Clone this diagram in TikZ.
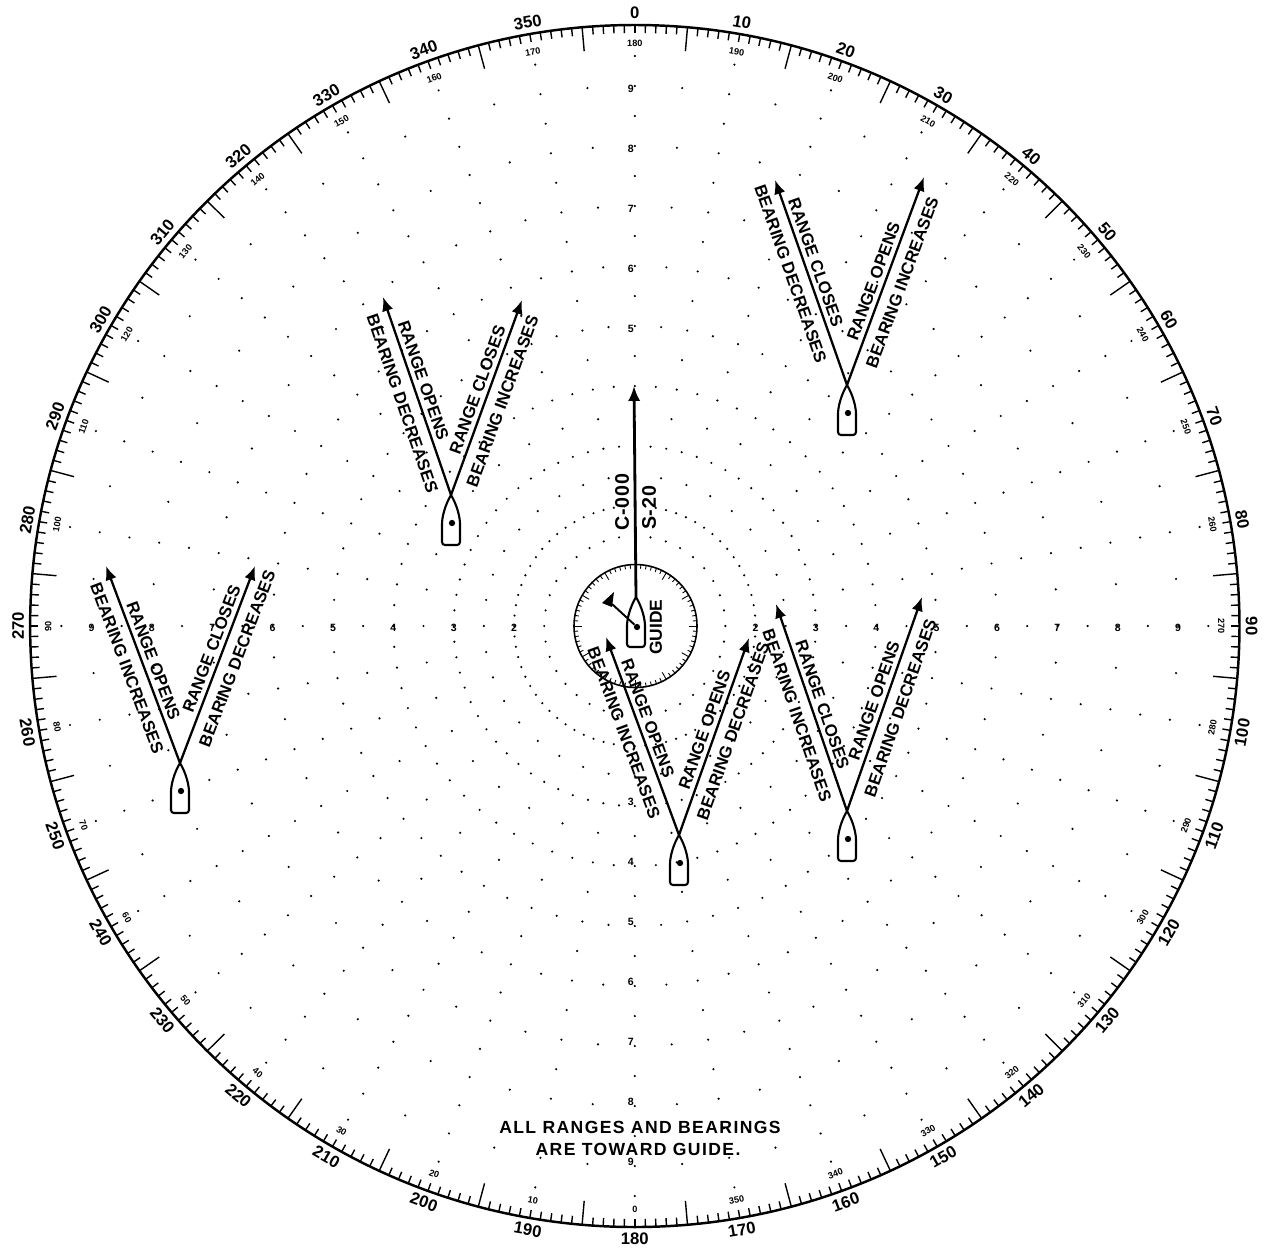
\documentclass[tikz,border=0pt]{standalone}
\usepackage{fontspec}
\setmainfont{Liberation Sans}
\newfontfamily\notefont[LetterSpace=8]{Liberation Sans}
\usetikzlibrary{arrows.meta}

\tikzset{
  chartdot/.style={fill=black},
  rim/.style={font=\bfseries\fontsize{9.5pt}{10pt}\selectfont,inner sep=0pt},
  reciprocal/.style={font=\bfseries\fontsize{5.2pt}{6pt}\selectfont,inner sep=0pt},
  rangemark/.style={font=\bfseries\fontsize{6pt}{6pt}\selectfont,inner sep=0pt},
  chartline/.style={line width=1.4pt},
  tickline/.style={line width=0.8pt},
  hull/.style={line width=1.2pt,rounded corners=1.7pt},
  shipdot/.style={circle,fill=black,inner sep=0pt,minimum size=3.6pt},
  course/.style={line width=1.3pt,-{Latex[length=8pt,width=6.5pt]}},
  rangetext/.style={sloped,above=2.3pt,inner sep=0pt,font=\bfseries\fontsize{9.6pt}{10pt}\selectfont},
  bearingtext/.style={sloped,below=5.2pt,inner sep=0pt,font=\bfseries\fontsize{9.6pt}{10pt}\selectfont},
  guidetext/.style={rotate=90,inner sep=0pt},
  note/.style={inner sep=0pt,font=\notefont\bfseries\fontsize{10pt}{11pt}\selectfont}
}

% where the four texts of the next ship sit along its lines
\newcommand{\textpos}[4]{\def\posa{#1}\def\posb{#2}\def\posc{#3}\def\posd{#4}}

% ship at #2 with its two relative movement lines
\newcommand{\shipmark}[8]{%
  \coordinate (#1) at (#2);
  \coordinate (#1l) at (#3);
  \coordinate (#1r) at (#4);
  \draw[hull,shift={(#1)}] (0,0) .. controls (-6,10) and (-9,22) .. (-9,32) -- (-9,50) -- (9,50) -- (9,32) .. controls (9,22) and (6,10) .. (0,0);
  \node[shipdot] (#1dot) at ([shift={(1,28)}]#1) {};
  \draw[course] (#1) -- (#1l)
    node[rangetext,pos=\posa] (#1a) {#5}
    node[bearingtext,pos=\posb] (#1b) {#6};
  \draw[course] (#1) -- (#1r)
    node[rangetext,pos=\posc] (#1c) {#7}
    node[bearingtext,pos=\posd] (#1d) {#8};
}

\begin{document}
\begin{tikzpicture}[x=0.02cm,y=-0.02cm]
\useasboundingbox (0,0) rectangle (1271,1249);

% bearing ring and range dots
\begin{scope}[shift={(634.8,626)},x=0.02012cm,y=0.02cm]
\draw[chartline] (0,0) circle [radius=601];
\foreach \brg in {0,...,359} {
  \pgfmathtruncatemacro{\five}{mod(\brg,10)==5 ? 24 : 8}
  \draw[tickline] (90-\brg:601) -- (90-\brg:601-\five);
}
\foreach \brg in {0,10,...,350} {
  \pgfmathtruncatemacro{\back}{mod(\brg+180,360)}
  \pgfmathsetmacro{\turn}{ifthenelse(and(\brg>90,\brg<270),180-\brg,-\brg)}
  \node[rim,rotate=\turn] (rim\brg) at (90-\brg:613) {\brg};
  \node[reciprocal,rotate=\turn] (rec\brg) at (90-\brg:583) {\back};
}
\foreach \ring in {2,...,9} {
  \foreach \brg in {0,5,...,355} {
    \fill[chartdot] (90-\brg:60*\ring) circle [radius=1.2];
  }
}
\foreach \ring in {1,...,9} {
  \foreach \brg in {0,10,...,350} {
    \fill[chartdot] (90-\brg:60*\ring+30) circle [radius=1.2];
  }
}
\foreach \ring in {5,...,9} {
  \node[rangemark] (north\ring) at (-4,60*\ring-3) {\ring};
}
\foreach \ring in {3,...,9} {
  \node[rangemark] (south\ring) at (-4,-60*\ring+4) {\ring};
}
\foreach \ring in {2,...,9} {
  \node[rangemark] (west\ring) at (-60*\ring,-2) {\ring};
  \node[rangemark] (east\ring) at (60*\ring,-2) {\ring};
}
\end{scope}

% guide in the centre
\draw[line width=0.9pt] (635.5,626) circle [radius=61.5];
\foreach \brg in {0,5,...,355} {
  \pgfmathtruncatemacro{\five}{mod(\brg,30)==0 ? 8 : 4.5}
  \draw[line width=0.5pt] ([shift={(90-\brg:-61.5)}]635.5,626) -- ([shift={(90-\brg:-61.5+\five)}]635.5,626);
}
\coordinate (guide) at (636,597);
\coordinate (guidetip) at (634,386);
\coordinate (guideflag) at (612,604);
\draw[hull,shift={(guide)}] (0,0) .. controls (-6,10) and (-9,22) .. (-9,32) -- (-9,50) -- (9,50) -- (9,32) .. controls (9,22) and (6,10) .. (0,0);
\node[shipdot] (guidedot) at (637,627) {};
\draw[line width=1.6pt,-{Latex[length=8.5pt,width=7pt]}] (guide) -- (guidetip);
\draw[line width=1.1pt] (guidedot) -- (guideflag);
\fill (602,603) -- (614,592) -- (612,607) -- cycle;
\node[guidetext,font=\bfseries\fontsize{11.2pt}{12pt}\selectfont\addfontfeature{LetterSpace=4}] (guidecourse) at (622,502) {C-000};
\node[guidetext,font=\bfseries\fontsize{11.2pt}{12pt}\selectfont\addfontfeature{LetterSpace=4}] (guidespeed) at (649,508) {S-20};
\node[guidetext,font=\bfseries\fontsize{9.9pt}{10pt}\selectfont] (guidename) at (656,627) {GUIDE};

% other ships
\textpos{0.58}{0.57}{0.48}{0.52}
\shipmark{shipa}{847,385}{775,180}{924,177}{RANGE CLOSES}{BEARING DECREASES}{RANGE OPENS}{BEARING INCREASES}
\textpos{0.56}{0.49}{0.52}{0.51}
\shipmark{shipb}{451,495}{383,297}{522,300}{RANGE OPENS}{BEARING DECREASES}{RANGE CLOSES}{BEARING INCREASES}
\textpos{0.50}{0.51}{0.56}{0.56}
\shipmark{shipc}{180,763}{106,566}{255,566}{RANGE OPENS}{BEARING INCREASES}{RANGE CLOSES}{BEARING DECREASES}
\textpos{0.57}{0.545}{0.515}{0.555}
\shipmark{shipd}{679,835}{606,637}{749,638}{RANGE OPENS}{BEARING INCREASES}{RANGE OPENS}{BEARING DECREASES}
\textpos{0.495}{0.487}{0.50}{0.506}
\shipmark{shipe}{847,811}{776,604}{922,597}{RANGE CLOSES}{BEARING INCREASES}{RANGE OPENS}{BEARING DECREASES}

\node[note] (notea) at (640,1127) {ALL RANGES AND BEARINGS};
\node[note] (noteb) at (638,1149) {ARE TOWARD GUIDE.};
\end{tikzpicture}
\end{document}
